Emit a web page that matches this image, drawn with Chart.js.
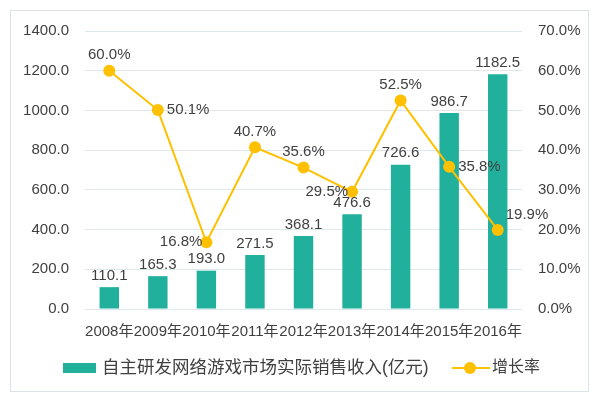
<!DOCTYPE html>
<html><head><meta charset="utf-8">
<script src="https://cdn.jsdelivr.net/npm/chart.js@4/dist/chart.umd.min.js"></script>
<style>
html,body{margin:0;padding:0;background:#fff;}
#wrap{position:relative;width:600px;height:407px;}
#frame{position:absolute;left:10px;top:10px;width:579px;height:382px;border:1px solid #D9E3E8;box-sizing:border-box;}
canvas{position:absolute;left:0;top:0;}
</style></head>
<body><div id="wrap"><div id="frame"></div><canvas id="c" width="600" height="407"></canvas></div>
<script>
const categories = ["2008年","2009年","2010年","2011年","2012年","2013年","2014年","2015年","2016年"];
const revenue = [110.1,165.3,193.0,271.5,368.1,476.6,726.6,986.7,1182.5];
const growth = [60.0,50.1,16.8,40.7,35.6,29.5,52.5,35.8,19.9];
const revenueLabel = "自主研发网络游戏市场实际销售收入(亿元)";
const growthLabel = "增长率";
const growthLabelPos = ["top","right","left","top","top","left","top","right","topright"];

const FONT = "'Liberation Sans','Noto Sans CJK SC',sans-serif";
const TEXT = "#404040";
const TEAL = "#20B09C";
const GOLD = "#FFC000";

const labelPlugin = {
  id:'labels',
  afterDatasetsDraw(chart){
    const ctx = chart.ctx;
    ctx.save();
    ctx.font = "15px " + FONT;
    ctx.fillStyle = TEXT;
    const m0 = chart.getDatasetMeta(0);
    m0.data.forEach((el,i)=>{
      ctx.textAlign='center'; ctx.textBaseline='bottom';
      ctx.fillText(revenue[i].toFixed(1), el.x, el.y-4);
    });
    const m1 = chart.getDatasetMeta(1);
    m1.data.forEach((el,i)=>{
      const t = growth[i].toFixed(1)+"%";
      const p = growthLabelPos[i];
      if(p==='top'){ctx.textAlign='center';ctx.textBaseline='bottom';ctx.fillText(t,el.x,el.y-8);}
      else if(p==='right'){ctx.textAlign='left';ctx.textBaseline='middle';ctx.fillText(t,el.x+9,el.y);}
      else if(p==='left'){ctx.textAlign='right';ctx.textBaseline='middle';ctx.fillText(t,el.x-4,el.y);}
      else {ctx.textAlign='left';ctx.textBaseline='bottom';ctx.fillText(t,el.x+8,el.y-8);}
    });
    // legend
    const ly = 368;
    ctx.fillStyle = TEAL;
    ctx.fillRect(63, ly-5, 33, 10);
    ctx.fillStyle = TEXT;
    ctx.textAlign='left'; ctx.textBaseline='middle';
    ctx.font = "17.5px " + FONT;
    ctx.fillText(revenueLabel, 102, ly);
    ctx.strokeStyle = GOLD; ctx.lineWidth = 2;
    ctx.beginPath(); ctx.moveTo(452, ly); ctx.lineTo(490, ly); ctx.stroke();
    ctx.fillStyle = GOLD;
    ctx.beginPath(); ctx.arc(470, ly, 6, 0, Math.PI*2); ctx.fill();
    ctx.fillStyle = TEXT;
    ctx.font = "16px " + FONT;
    ctx.fillText(growthLabel, 492, ly);
    ctx.restore();
  }
};

new Chart(document.getElementById('c'), {
  data:{
    labels: categories,
    datasets:[
      {type:'bar', label:revenueLabel, data:revenue, backgroundColor:TEAL, yAxisID:'y', order:2,
       categoryPercentage:0.8, barPercentage:0.5},
      {type:'line', label:growthLabel, data:growth, borderColor:GOLD, backgroundColor:GOLD, borderWidth:2,
       pointRadius:6, pointHoverRadius:6, pointBackgroundColor:GOLD, pointBorderWidth:0, yAxisID:'y1', order:1, tension:0}
    ]
  },
  options:{
    responsive:false, animation:false,
    layout:{padding:{left:12,right:12,top:31,bottom:60}},
    plugins:{legend:{display:false}, tooltip:{enabled:false}},
    scales:{
      x:{grid:{display:false}, border:{display:false},
         ticks:{color:TEXT, font:{size:15, family:FONT}, maxRotation:0, autoSkip:false, padding:6}},
      y:{position:'left', min:0, max:1400, afterFit(s){s.width=73;},
         ticks:{stepSize:200, color:TEXT, font:{size:15, family:FONT}, padding:16, callback:v=>v.toFixed(1)},
         grid:{color:'#DCE8EC', lineWidth:1, drawTicks:false}, border:{display:false}},
      y1:{position:'right', min:0, max:70, afterFit(s){s.width=66;},
         ticks:{stepSize:10, color:TEXT, font:{size:15, family:FONT}, padding:16, callback:v=>v.toFixed(1)+"%"},
         grid:{display:false, drawTicks:false}, border:{display:false}}
    }
  },
  plugins:[labelPlugin]
});
</script></body></html>
